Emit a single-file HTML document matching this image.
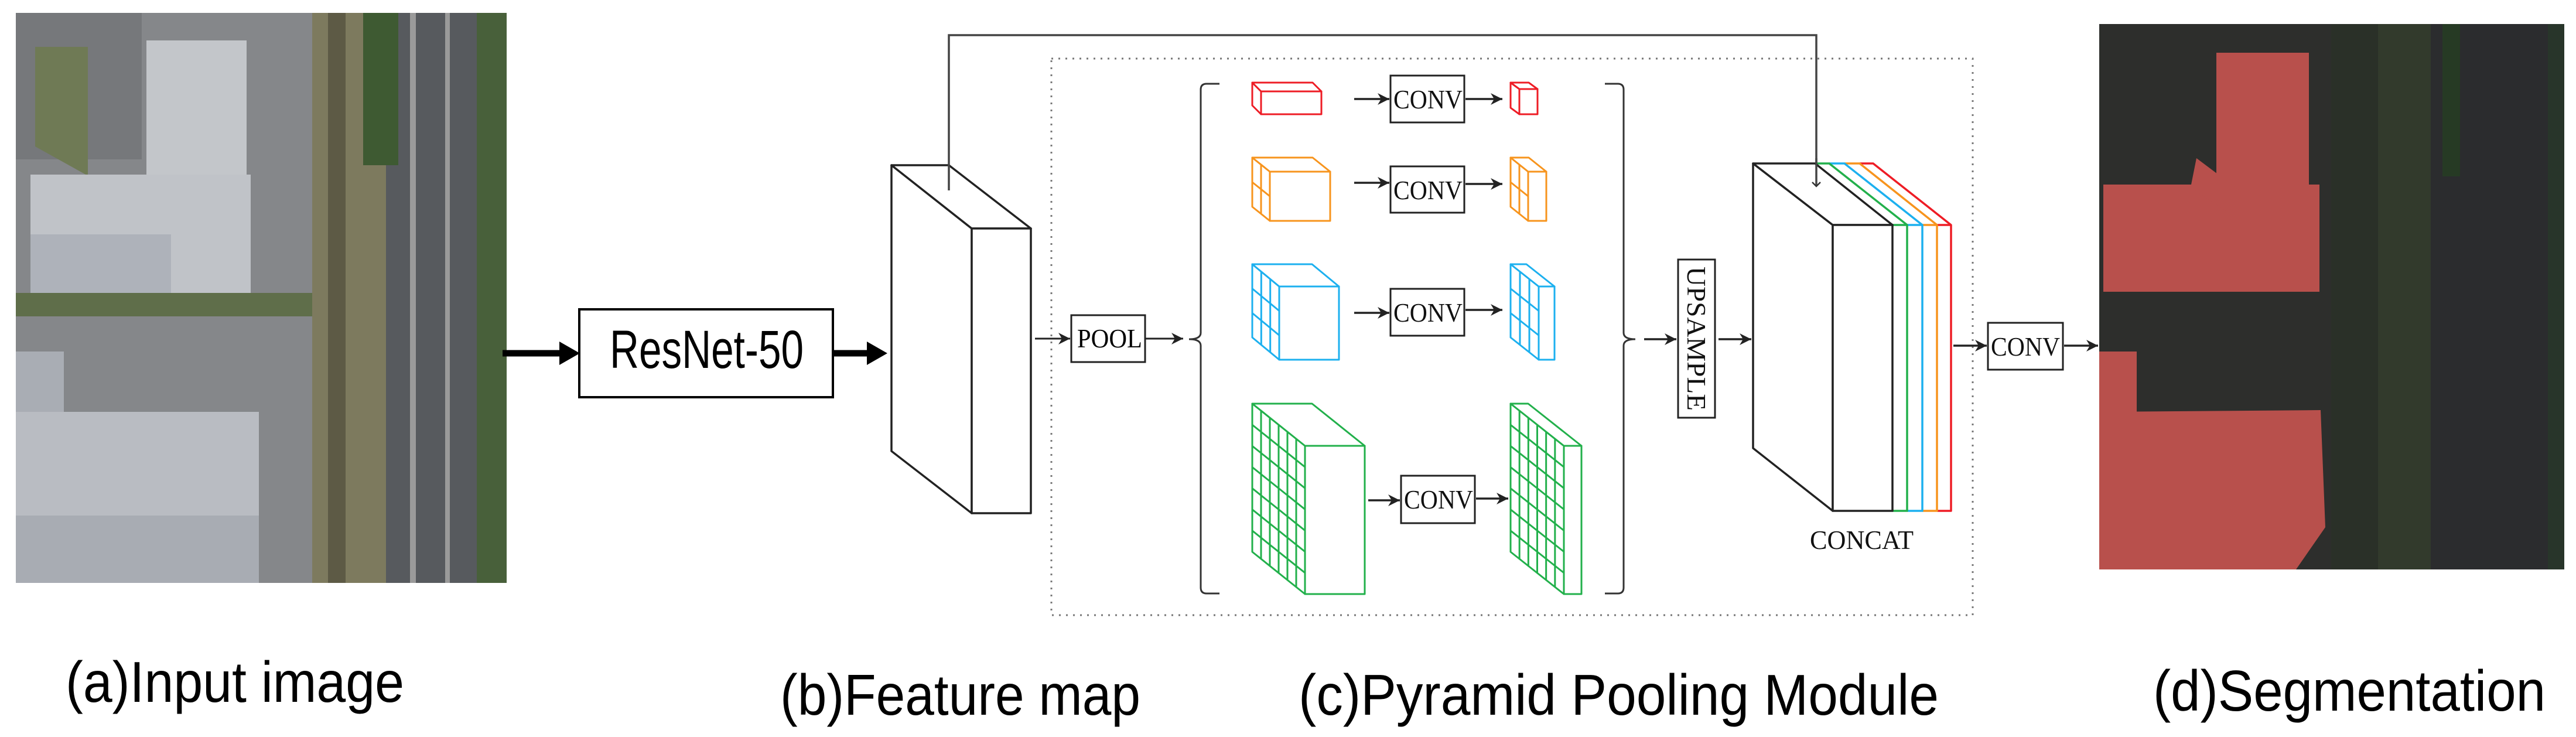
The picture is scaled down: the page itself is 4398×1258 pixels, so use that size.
<!DOCTYPE html>
<html><head><meta charset="utf-8"><style>
html,body{margin:0;padding:0;background:#fff;}
svg{display:block;}
</style></head><body>
<svg width="4398" height="1258" viewBox="0 0 4398 1258" xmlns="http://www.w3.org/2000/svg">
<defs>
<marker id="ah" markerWidth="10" markerHeight="10" refX="9" refY="5" orient="auto" markerUnits="userSpaceOnUse" viewBox="0 0 10 10">
<path d="M0,0 L10,5 L0,10 L3,5 z" fill="#222"/></marker>
<marker id="ahs" markerWidth="20" markerHeight="20" refX="10" refY="5" orient="auto" markerUnits="userSpaceOnUse" viewBox="0 0 10 10">
<path d="M0,0 L10,5 L0,10 L3,5 z" fill="#222"/></marker>
<marker id="ahv" markerWidth="18" markerHeight="18" refX="9" refY="9" orient="auto" markerUnits="userSpaceOnUse" viewBox="0 0 18 18">
<path d="M2,2 L9,9 L2,16" fill="none" stroke="#333" stroke-width="2.5"/></marker>
</defs>

<!-- Input image -->
<g>
<rect x="27" y="22" width="838" height="973" fill="#85878a"/>
<rect x="533" y="22" width="126" height="973" fill="#7d7a5e"/>
<rect x="560" y="22" width="30" height="973" fill="#5d5a45"/>
<rect x="659" y="22" width="155" height="973" fill="#575a5e"/>
<rect x="700" y="22" width="10" height="973" fill="#9a9a9a"/>
<rect x="760" y="22" width="8" height="973" fill="#9a9a9a"/>
<rect x="814" y="22" width="51" height="973" fill="#48603a"/>
<rect x="620" y="22" width="60" height="260" fill="#3e5a32"/>
<rect x="27" y="22" width="215" height="250" fill="#76787b"/>
<polygon points="60,80 150,80 150,300 60,250" fill="#6f7a55"/>
<rect x="250" y="69" width="171" height="250" fill="#c3c6ca"/>
<rect x="52" y="298" width="376" height="202" fill="#c0c3c8"/>
<rect x="52" y="400" width="240" height="100" fill="#aeb2ba"/>
<rect x="27" y="500" width="506" height="40" fill="#5f6e4a"/>
<rect x="27" y="600" width="82" height="127" fill="#a9adb4"/>
<rect x="27" y="703" width="415" height="292" fill="#b9bcc2"/>
<rect x="27" y="880" width="415" height="115" fill="#a8acb3"/>
</g>

<!-- thick arrows -->
<line x1="858" y1="603" x2="960" y2="603" stroke="#000" stroke-width="11"/>
<polygon points="955,583 990,603 955,623" fill="#000"/>
<rect x="989" y="528" width="433" height="150" fill="#fff" stroke="#000" stroke-width="4"/>
<text x="1041" y="628" font-family="Liberation Sans Narrow, Liberation Sans, sans-serif" font-size="92" textLength="331" lengthAdjust="spacingAndGlyphs">ResNet-50</text>
<line x1="1422" y1="603" x2="1485" y2="603" stroke="#000" stroke-width="11"/>
<polygon points="1480,583 1515,603 1480,623" fill="#000"/>

<!-- Feature block -->
<g fill="#fff" stroke="#222" stroke-width="3.5" stroke-linejoin="round">
<polygon points="1522,282 1659,390 1659,876 1522,770"/>
<polygon points="1522,282 1620,282 1760,390 1659,390"/>
<rect x="1659" y="390" width="101" height="486"/>
</g>

<!-- skip connection -->
<polyline points="1620,325 1620,60 3101,60 3101,318" fill="none" stroke="#444" stroke-width="3.5"/>

<!-- dotted box -->
<rect x="1795" y="100" width="1573" height="950" fill="none" stroke="#777" stroke-width="3" stroke-dasharray="3,9"/>

<!-- POOL -->
<line x1="1767" y1="578" x2="1827" y2="578" stroke="#222" stroke-width="3" marker-end="url(#ahs)"/>
<rect x="1829" y="538" width="126" height="80" fill="#fff" stroke="#222" stroke-width="3"/>
<text x="1839" y="593" font-family="Liberation Serif, serif" font-size="46" textLength="111" lengthAdjust="spacingAndGlyphs">POOL</text>
<line x1="1955" y1="578" x2="2020" y2="578" stroke="#222" stroke-width="3" marker-end="url(#ahs)"/>

<!-- brackets -->
<path d="M2082,143 L2060,143 Q2050,143 2050,153 L2050,568 Q2050,579 2030,579 Q2050,579 2050,590 L2050,1003 Q2050,1013 2060,1013 L2082,1013" fill="none" stroke="#333" stroke-width="3"/>
<path d="M2740,143 L2762,143 Q2772,143 2772,153 L2772,568 Q2772,579 2792,579 Q2772,579 2772,590 L2772,1003 Q2772,1013 2762,1013 L2740,1013" fill="none" stroke="#333" stroke-width="3"/>

<!-- cubes -->
<g fill="#fff" stroke-width="3" stroke-linejoin="round">
<!-- red big -->
<g stroke="#ee1c25">
<polygon points="2138,141 2153,156 2153,195 2138,180"/>
<polygon points="2138,141 2241,141 2256,156 2153,156"/>
<rect x="2153" y="156" width="103" height="39"/>
</g>
<!-- red small -->
<g stroke="#ee1c25">
<polygon points="2579,141 2594,152 2594,195 2579,184"/>
<polygon points="2579,141 2610,141 2625,152 2594,152"/>
<rect x="2594" y="152" width="31" height="43"/>
</g>
<!-- orange big -->
<g stroke="#f7941d">
<polygon points="2138,269 2168,293 2168,377 2138,353"/>
<polygon points="2138,269 2241,269 2271,293 2168,293"/>
<rect x="2168" y="293" width="103" height="84"/>
<g transform="matrix(30,24,0,84,2138,269)"><g vector-effect="non-scaling-stroke">
<line x1="0.5" y1="0" x2="0.5" y2="1" vector-effect="non-scaling-stroke"/>
<line x1="0" y1="0.5" x2="1" y2="0.5" vector-effect="non-scaling-stroke"/></g></g>
</g>
<!-- orange small -->
<g stroke="#f7941d">
<polygon points="2579,269 2609,293 2609,377 2579,353"/>
<polygon points="2579,269 2610,269 2640,293 2609,293"/>
<rect x="2609" y="293" width="31" height="84"/>
<g transform="matrix(30,24,0,84,2579,269)">
<line x1="0.5" y1="0" x2="0.5" y2="1" vector-effect="non-scaling-stroke"/>
<line x1="0" y1="0.5" x2="1" y2="0.5" vector-effect="non-scaling-stroke"/></g>
</g>
<!-- blue big -->
<g stroke="#1cb0ef">
<polygon points="2138,451 2184,489 2184,614 2138,576"/>
<polygon points="2138,451 2240,451 2286,489 2184,489"/>
<rect x="2184" y="489" width="102" height="125"/>
<g transform="matrix(46,38,0,125,2138,451)">
<line x1="0.333" y1="0" x2="0.333" y2="1" vector-effect="non-scaling-stroke"/>
<line x1="0.667" y1="0" x2="0.667" y2="1" vector-effect="non-scaling-stroke"/>
<line x1="0" y1="0.333" x2="1" y2="0.333" vector-effect="non-scaling-stroke"/>
<line x1="0" y1="0.667" x2="1" y2="0.667" vector-effect="non-scaling-stroke"/></g>
</g>
<!-- blue small -->
<g stroke="#1cb0ef">
<polygon points="2579,451 2627,489 2627,614 2579,576"/>
<polygon points="2579,451 2606,451 2654,489 2627,489"/>
<rect x="2627" y="489" width="27" height="125"/>
<g transform="matrix(48,38,0,125,2579,451)">
<line x1="0.333" y1="0" x2="0.333" y2="1" vector-effect="non-scaling-stroke"/>
<line x1="0.667" y1="0" x2="0.667" y2="1" vector-effect="non-scaling-stroke"/>
<line x1="0" y1="0.333" x2="1" y2="0.333" vector-effect="non-scaling-stroke"/>
<line x1="0" y1="0.667" x2="1" y2="0.667" vector-effect="non-scaling-stroke"/></g>
</g>
<!-- green big -->
<g stroke="#22b04b">
<polygon points="2138,689 2228,761 2228,1014 2138,942"/>
<polygon points="2138,689 2240,689 2330,761 2228,761"/>
<rect x="2228" y="761" width="102" height="253"/>
<g transform="matrix(90,72,0,253,2138,689)">
<line x1="0.1667" y1="0" x2="0.1667" y2="1" vector-effect="non-scaling-stroke"/>
<line x1="0.3333" y1="0" x2="0.3333" y2="1" vector-effect="non-scaling-stroke"/>
<line x1="0.5" y1="0" x2="0.5" y2="1" vector-effect="non-scaling-stroke"/>
<line x1="0.6667" y1="0" x2="0.6667" y2="1" vector-effect="non-scaling-stroke"/>
<line x1="0.8333" y1="0" x2="0.8333" y2="1" vector-effect="non-scaling-stroke"/>
<line x1="0" y1="0.1429" x2="1" y2="0.1429" vector-effect="non-scaling-stroke"/>
<line x1="0" y1="0.2857" x2="1" y2="0.2857" vector-effect="non-scaling-stroke"/>
<line x1="0" y1="0.4286" x2="1" y2="0.4286" vector-effect="non-scaling-stroke"/>
<line x1="0" y1="0.5714" x2="1" y2="0.5714" vector-effect="non-scaling-stroke"/>
<line x1="0" y1="0.7143" x2="1" y2="0.7143" vector-effect="non-scaling-stroke"/>
<line x1="0" y1="0.8571" x2="1" y2="0.8571" vector-effect="non-scaling-stroke"/></g>
</g>
<!-- green small -->
<g stroke="#22b04b">
<polygon points="2579,689 2670,761 2670,1014 2579,942"/>
<polygon points="2579,689 2609,689 2700,761 2670,761"/>
<rect x="2670" y="761" width="30" height="253"/>
<g transform="matrix(91,72,0,253,2579,689)">
<line x1="0.1667" y1="0" x2="0.1667" y2="1" vector-effect="non-scaling-stroke"/>
<line x1="0.3333" y1="0" x2="0.3333" y2="1" vector-effect="non-scaling-stroke"/>
<line x1="0.5" y1="0" x2="0.5" y2="1" vector-effect="non-scaling-stroke"/>
<line x1="0.6667" y1="0" x2="0.6667" y2="1" vector-effect="non-scaling-stroke"/>
<line x1="0.8333" y1="0" x2="0.8333" y2="1" vector-effect="non-scaling-stroke"/>
<line x1="0" y1="0.1429" x2="1" y2="0.1429" vector-effect="non-scaling-stroke"/>
<line x1="0" y1="0.2857" x2="1" y2="0.2857" vector-effect="non-scaling-stroke"/>
<line x1="0" y1="0.4286" x2="1" y2="0.4286" vector-effect="non-scaling-stroke"/>
<line x1="0" y1="0.5714" x2="1" y2="0.5714" vector-effect="non-scaling-stroke"/>
<line x1="0" y1="0.7143" x2="1" y2="0.7143" vector-effect="non-scaling-stroke"/>
<line x1="0" y1="0.8571" x2="1" y2="0.8571" vector-effect="non-scaling-stroke"/></g>
</g>
</g>

<!-- CONV boxes and arrows -->
<g stroke="#222" stroke-width="3.5" fill="none">
<line x1="2312" y1="169" x2="2372" y2="169" marker-end="url(#ahs)"/>
<line x1="2502" y1="169" x2="2565" y2="169" marker-end="url(#ahs)"/>
<line x1="2312" y1="312" x2="2372" y2="312" marker-end="url(#ahs)"/>
<line x1="2502" y1="314" x2="2565" y2="314" marker-end="url(#ahs)"/>
<line x1="2312" y1="534" x2="2372" y2="534" marker-end="url(#ahs)"/>
<line x1="2502" y1="529" x2="2565" y2="529" marker-end="url(#ahs)"/>
<line x1="2336" y1="854" x2="2390" y2="854" marker-end="url(#ahs)"/>
<line x1="2520" y1="851" x2="2575" y2="851" marker-end="url(#ahs)"/>
<line x1="2807" y1="579" x2="2862" y2="579" marker-end="url(#ahs)"/>
<line x1="2934" y1="579" x2="2990" y2="579" marker-end="url(#ahs)"/>
<line x1="3335" y1="590" x2="3392" y2="590" marker-end="url(#ahs)"/>
<line x1="3524" y1="590" x2="3582" y2="590" marker-end="url(#ahs)"/>
</g>
<g fill="#fff" stroke="#222" stroke-width="3">
<rect x="2374" y="129" width="126" height="80"/>
<rect x="2374" y="284" width="126" height="79"/>
<rect x="2374" y="493" width="126" height="80"/>
<rect x="2392" y="812" width="126" height="81"/>
<rect x="2865" y="443" width="63" height="270"/>
<rect x="3394" y="551" width="128" height="80"/>
</g>
<g font-family="Liberation Serif, serif" font-size="46" fill="#111">
<text x="2379" y="185" textLength="118" lengthAdjust="spacingAndGlyphs">CONV</text>
<text x="2379" y="340" textLength="118" lengthAdjust="spacingAndGlyphs">CONV</text>
<text x="2379" y="549" textLength="118" lengthAdjust="spacingAndGlyphs">CONV</text>
<text x="2397" y="868" textLength="118" lengthAdjust="spacingAndGlyphs">CONV</text>
<text x="3399" y="607" textLength="118" lengthAdjust="spacingAndGlyphs">CONV</text>
<text transform="translate(2881,455) rotate(90)" x="0" y="0" textLength="246" lengthAdjust="spacingAndGlyphs">UPSAMPLE</text>
<text x="3090" y="937" textLength="177" lengthAdjust="spacingAndGlyphs">CONCAT</text>
</g>

<!-- Concat block -->
<g fill="none" stroke-width="3.5" stroke-linejoin="round">
<g stroke="#ee1c25"><polyline points="3175,279 3198,279 3331,384 3331,872 3307,872"/><line x1="3307" y1="384" x2="3331" y2="384"/></g>
<g stroke="#f7941d"><polyline points="3149,279 3175,279 3307,384 3307,872 3282,872"/><line x1="3282" y1="384" x2="3307" y2="384"/></g>
<g stroke="#1cb0ef"><polyline points="3123,279 3149,279 3282,384 3282,872 3256,872"/><line x1="3256" y1="384" x2="3282" y2="384"/></g>
<g stroke="#22b04b"><polyline points="3099,279 3123,279 3256,384 3256,872 3231,872"/><line x1="3231" y1="384" x2="3256" y2="384"/></g>
</g>
<g fill="#fff" stroke="#222" stroke-width="3.5" stroke-linejoin="round">
<polygon points="2993,279 3129,384 3129,872 2993,765"/>
<polygon points="2993,279 3099,279 3231,384 3129,384"/>
<rect x="3129" y="384" width="102" height="488"/>
</g>
<line x1="3101" y1="270" x2="3101" y2="318" stroke="#444" stroke-width="3.5" marker-end="url(#ahv)"/>

<!-- Segmentation image -->
<g>
<rect x="3584" y="41" width="794" height="931" fill="#2d2e2c"/>
<rect x="3980" y="41" width="170" height="931" fill="#2a3028"/>
<rect x="4060" y="41" width="90" height="931" fill="#323a2c"/>
<rect x="4150" y="41" width="200" height="931" fill="#2b2c2e"/>
<rect x="4350" y="41" width="28" height="931" fill="#28352a"/>
<rect x="4170" y="41" width="30" height="260" fill="#263a24"/>
<rect x="3784" y="90" width="158" height="237" fill="#b8504c"/>
<rect x="3591" y="315" width="369" height="183" fill="#b8504c"/>
<polygon points="3750,270 3830,330 3800,360 3740,320" fill="#b8504c"/>
<rect x="3584" y="600" width="64" height="119" fill="#b8504c"/>
<polygon points="3584,703 3962,700 3970,900 3920,972 3584,972" fill="#b8504c"/>
</g>

<!-- Labels -->
<g font-family="Liberation Sans Narrow, Liberation Sans, sans-serif" font-size="98" fill="#000">
<text x="112" y="1198" textLength="578" lengthAdjust="spacingAndGlyphs">(a)Input image</text>
<text x="1332" y="1220" textLength="615" lengthAdjust="spacingAndGlyphs">(b)Feature map</text>
<text x="2217" y="1220" textLength="1093" lengthAdjust="spacingAndGlyphs">(c)Pyramid Pooling Module</text>
<text x="3676" y="1213" textLength="670" lengthAdjust="spacingAndGlyphs">(d)Segmentation</text>
</g>
</svg>
</body></html>
